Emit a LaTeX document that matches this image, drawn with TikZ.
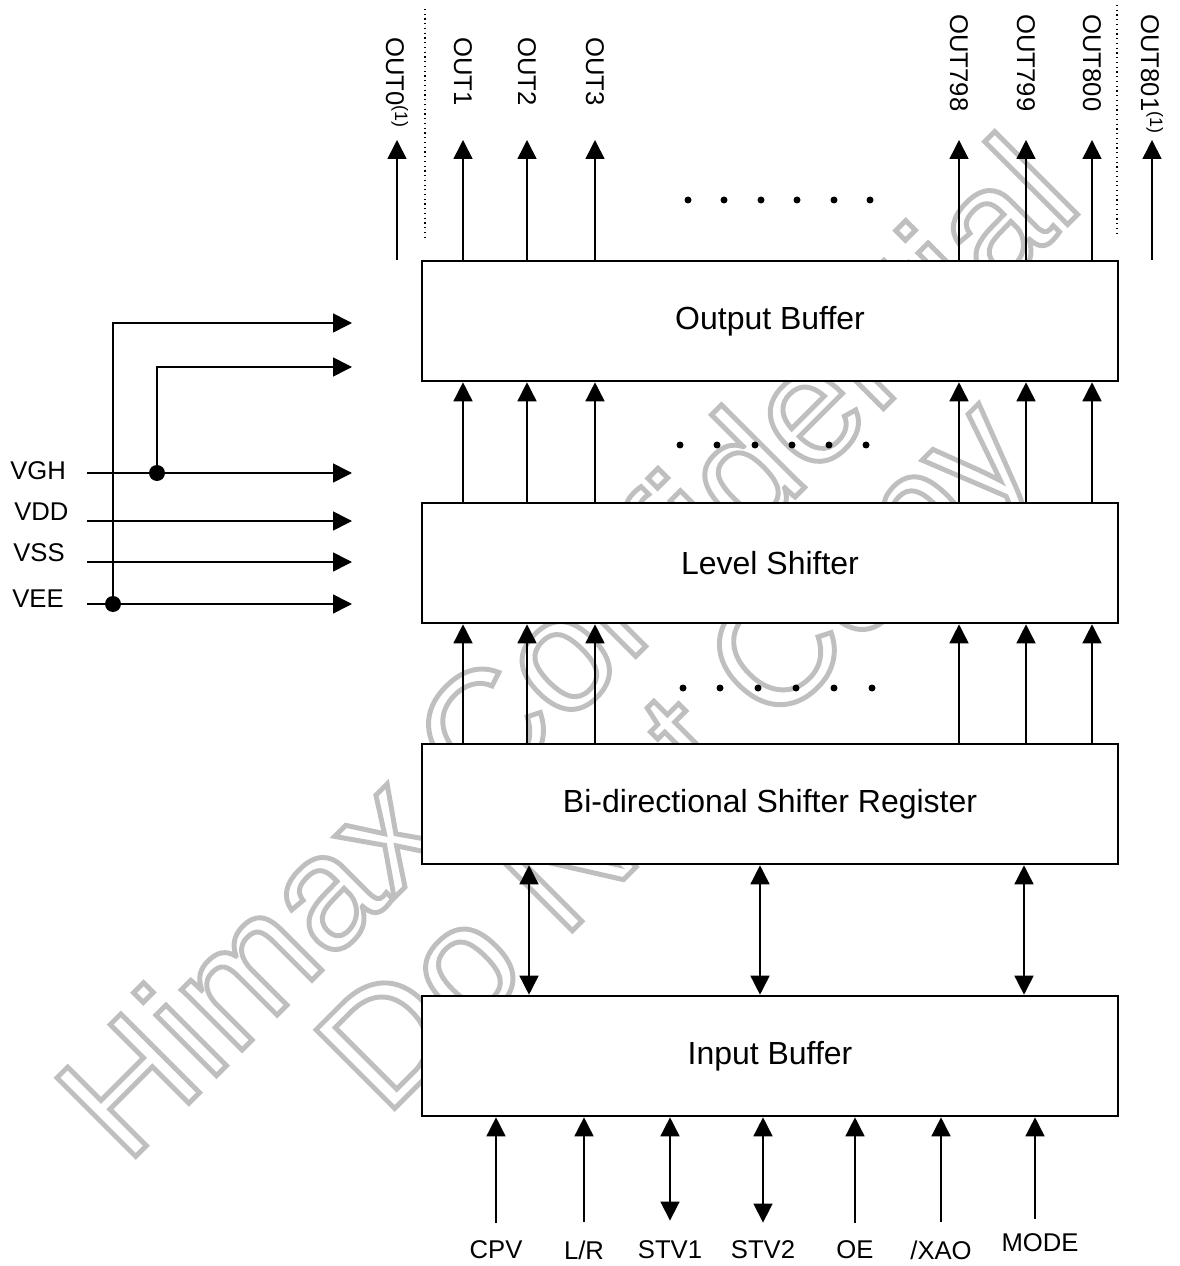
\documentclass[tikz,border=0pt]{standalone}
\usepackage{fontspec}
\setmainfont{Liberation Sans}
\usepackage{tikz}
\usetikzlibrary{arrows.meta}

\newcommand\hollowtext[1]{\special{pdf:literal direct q 1 Tr 2.8 w}#1\special{pdf:literal direct Q}}

\tikzset{
    blk/.style={draw,fill=white,line width=1.5pt,minimum width=13.92cm,minimum height=2.4cm,
        font=\fontsize{18.2}{20}\selectfont},
    sig/.style={line width=0.9pt,-{Triangle[length=0.38cm,width=0.38cm]}},
    bus/.style={line width=0.9pt,{Triangle[length=0.38cm,width=0.38cm]}-{Triangle[length=0.38cm,width=0.38cm]}},
    lbl/.style={inner sep=0pt,font=\fontsize{14.6}{16}\selectfont},
    outlbl/.style={lbl,rotate=-90,anchor=west},
    sep/.style={line width=0.7pt,dotted},
    jdot/.style={circle,fill,inner sep=0pt,minimum size=0.32cm},
    wmark/.style={inner sep=0pt,anchor=base west,rotate=45,text=black!25,
        font=\fontsize{92}{94}\selectfont}
}

\begin{document}
\begin{tikzpicture}[x=0.02cm,y=-0.02cm]
    \useasboundingbox (0,0) rectangle (1179,1266);

    \node[wmark] (wm1) at (126,1166) {\hollowtext{Himax Confidential}};
    \node[wmark] (wm2) at (385,1118) {\hollowtext{Do Not Copy}};

    \node[blk] (ob) at (770,321) {Output Buffer};
    \node[blk] (ls) at (770,563) {Level Shifter};
    \node[blk] (sr) at (770,804) {Bi-directional Shifter Register};
    \node[blk] (ib) at (770,1056) {Input Buffer};

    \coordinate (tip) at (0,140);
    \coordinate (base) at (0,260);
    \foreach \i/\x in {1/463,2/527,3/595,4/959,5/1026,6/1092}
        \coordinate (col\i) at (\x,0);

    % outputs
    \node[outlbl] (out0) at (397,37) {OUT0\textsuperscript{(1)}};
    \node[outlbl] (out1) at (463,37) {OUT1};
    \node[outlbl] (out2) at (527,37) {OUT2};
    \node[outlbl] (out3) at (595,37) {OUT3};
    \node[outlbl] (out798) at (959,14) {OUT798};
    \node[outlbl] (out799) at (1026,14) {OUT799};
    \node[outlbl] (out800) at (1092,14) {OUT800};
    \node[outlbl] (out801) at (1152,14) {OUT801\textsuperscript{(1)}};
    \coordinate (o0) at (397,0);
    \coordinate (o801) at (1152,0);
    \draw[sig] (o0 |- base) -- (o0 |- tip);
    \draw[sig] (o801 |- base) -- (o801 |- tip);
    \foreach \i in {1,...,6} {
        \draw[sig] (ob.north -| col\i) -- (tip -| col\i);
        \draw[sig] (ls.north -| col\i) -- (ob.south -| col\i);
        \draw[sig] (sr.north -| col\i) -- (ls.south -| col\i);
    }
    \draw[sep] (425,9) -- (425,237);
    \draw[sep] (1117,5) -- (1117,233);

    \foreach \x in {688,724,761,797,834,870} \fill (\x,200) circle (0.07cm);
    \foreach \x in {680,717,755,792,829,866} \fill (\x,445) circle (0.07cm);
    \foreach \x in {683,720,758,796,834,872} \fill (\x,688) circle (0.07cm);

    % bi-directional links
    \foreach \x [count=\i] in {529,760,1024} {
        \coordinate (b\i) at (\x,0);
        \draw[bus] (sr.south -| b\i) -- (ib.north -| b\i);
    }

    % supplies
    \node[lbl,anchor=west] (vgh) at (10,471) {VGH};
    \node[lbl,anchor=west] (vdd) at (14,512) {VDD};
    \node[lbl,anchor=west] (vss) at (13,553) {VSS};
    \node[lbl,anchor=west] (vee) at (12,599) {VEE};
    \coordinate (rs) at (87,0);
    \coordinate (re) at (352,0);
    \coordinate (y2) at (0,521);
    \coordinate (y3) at (0,562);
    \node[jdot] (j1) at (157,473) {};
    \node[jdot] (j2) at (113,604) {};
    \coordinate (k1) at (157,367);
    \coordinate (k2) at (113,323);
    \draw[line width=0.9pt] (rs |- j1) -- (j1);
    \draw[sig] (j1) -- (re |- j1);
    \draw[sig] (rs |- y2) -- (re |- y2);
    \draw[sig] (rs |- y3) -- (re |- y3);
    \draw[line width=0.9pt] (rs |- j2) -- (j2);
    \draw[sig] (j2) -- (re |- j2);
    \draw[sig] (j1.center) -- (k1) -- (re |- k1);
    \draw[sig] (j2.center) -- (k2) -- (re |- k2);

    % inputs
    \node[lbl] (cpv) at (496,1250) {CPV};
    \node[lbl] (lr) at (584,1250) {L/R};
    \node[lbl] (stv1) at (670,1250) {STV1};
    \node[lbl] (stv2) at (763,1250) {STV2};
    \node[lbl] (oe) at (855,1250) {OE};
    \node[lbl] (xao) at (941,1250) {/XAO};
    \node[lbl] (mode) at (1040,1243) {MODE};
    \coordinate (m) at (1035,0);
    \foreach \n in {cpv,lr,oe,xao}
        \draw[sig] ([yshift=0.36cm]\n.north) -- (ib.south -| \n.north);
    \draw[sig] ([yshift=0.3cm]mode.north -| m) -- (ib.south -| m);
    \draw[bus] ([yshift=0.4cm]stv1.north) -- (ib.south -| stv1.north);
    \draw[bus] ([yshift=0.36cm]stv2.north) -- (ib.south -| stv2.north);
\end{tikzpicture}
\end{document}
